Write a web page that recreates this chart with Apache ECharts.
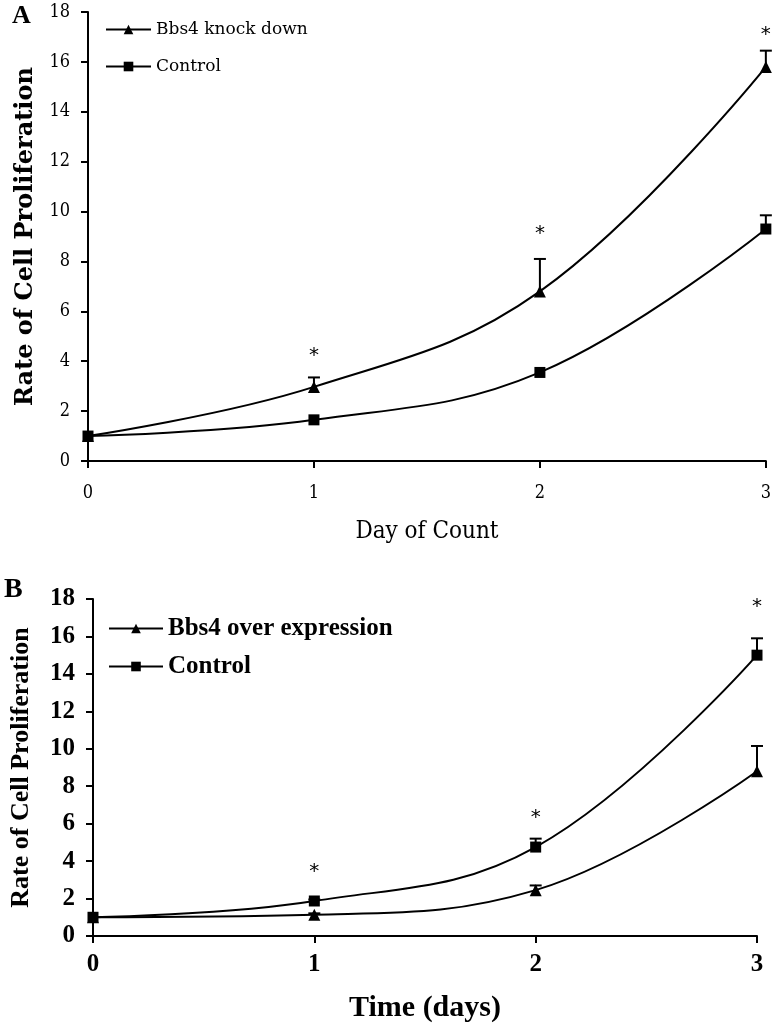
<!DOCTYPE html>
<html>
<head>
<meta charset="utf-8">
<script src="https://cdn.jsdelivr.net/npm/echarts@6/dist/echarts.min.js"></script>
<style>
html,body{margin:0;padding:0;background:#fff;}
#chart{width:774px;height:1024px;}
</style>
</head>
<body>
<div id="chart"></div>
<script>
// ---- data ----
const days = [0, 1, 2, 3];
const starDays = [1, 2, 3];
const yTickInterval = 2;

// Panel A
const aNames = ['Bbs4 knock down', 'Control'];
const aKnockdown = [1, 2.97, 6.8, 15.8];
const aKnockdownErr = [0, 0.38, 1.3, 0.65];
const aControl = [1, 1.65, 3.55, 9.3];
const aControlErr = [0, 0, 0, 0.55];
const aStars = [4.2, 9.1, 17.1];
const aXTitle = 'Day of Count';
const aYTitle = 'Rate of Cell Proliferation';

// Panel B
const bNames = ['Bbs4 over expression', 'Control'];
const bOver = [1, 1.13, 2.45, 8.8];
const bOverErr = [0, 0.08, 0.25, 1.35];
const bControl = [1, 1.87, 4.75, 15.0];
const bControlErr = [0, 0.08, 0.45, 0.9];
const bStars = [3.45, 6.3, 17.6];
const bXTitle = 'Time (days)';
const bYTitle = 'Rate of Cell Proliferation';

// ---- helpers ----
const pts = (vals) => days.map((d, i) => [d, vals[i]]);
const errPts = (vals, errs) => days.map((d, i) => [d, vals[i], errs[i]]).filter(p => p[2] > 0);
const starPts = (vals) => starDays.map((d, i) => [d, vals[i]]);

function errSeries(idx, vals, errs, capW) {
  return {
    type: 'custom', xAxisIndex: idx, yAxisIndex: idx, silent: true, z: 5,
    data: errPts(vals, errs),
    renderItem: function (params, api) {
      const x = api.value(0), y = api.value(1), e = api.value(2);
      const p0 = api.coord([x, y]);
      const p1 = api.coord([x, y + e]);
      const st = { stroke: '#000', lineWidth: 2 };
      return { type: 'group', children: [
        { type: 'line', shape: { x1: p0[0], y1: p0[1], x2: p1[0], y2: p1[1] }, style: st },
        { type: 'line', shape: { x1: p1[0] - capW / 2, y1: p1[1], x2: p1[0] + capW / 2, y2: p1[1] }, style: st }
      ]};
    }
  };
}
function starSeries(idx, vals, font) {
  return {
    type: 'custom', xAxisIndex: idx, yAxisIndex: idx, silent: true, z: 6,
    data: starPts(vals),
    renderItem: function (params, api) {
      const p = api.coord([api.value(0), api.value(1)]);
      return { type: 'text', x: p[0], y: p[1], style: { text: '*', font: font, fill: '#000', align: 'center', verticalAlign: 'middle' } };
    }
  };
}
function lineSeries(idx, name, vals, symbol, size) {
  return {
    type: 'line', name: name, xAxisIndex: idx, yAxisIndex: idx,
    data: pts(vals), smooth: 0.4, symbol: symbol, symbolSize: size, showSymbol: true,
    lineStyle: { color: '#000', width: 2 }, itemStyle: { color: '#000' }, z: 4
  };
}

const fontA = '"DejaVu Serif Condensed", "DejaVu Serif", serif';
const fontB = '"Liberation Serif", "Times New Roman", serif';

function xAxisCfg(idx, name, font, size, weight, nameSize, nameGap, labelMargin) {
  return {
    gridIndex: idx, type: 'value', min: 0, max: 3, interval: 1,
    name: name, nameLocation: 'middle', nameGap: nameGap,
    nameTextStyle: { fontFamily: font, fontSize: nameSize, fontWeight: weight, color: '#000' },
    axisLine: { lineStyle: { color: '#000', width: 2 } },
    axisTick: { show: true, inside: false, length: 7, lineStyle: { color: '#000', width: 2 } },
    axisLabel: { fontFamily: font, fontSize: size, fontWeight: weight, color: '#000', margin: labelMargin },
    splitLine: { show: false }
  };
}
function yAxisCfg(idx, name, font, nameFont, size, weight, nameSize, nameGap, labelMargin) {
  return {
    gridIndex: idx, type: 'value', min: 0, max: 18, interval: yTickInterval,
    name: name, nameLocation: 'middle', nameGap: nameGap,
    nameTextStyle: { fontFamily: nameFont, fontSize: nameSize, fontWeight: 'bold', color: '#000' },
    axisLine: { show: true, lineStyle: { color: '#000', width: 2 } },
    axisTick: { show: true, inside: false, length: 7, lineStyle: { color: '#000', width: 2 } },
    axisLabel: { fontFamily: font, fontSize: size, fontWeight: weight, color: '#000', margin: labelMargin },
    splitLine: { show: false }
  };
}

const chart = echarts.init(document.getElementById('chart'), null, { renderer: 'canvas' });
chart.setOption({
  backgroundColor: '#fff',
  animation: false,
  grid: [
    { left: 88, top: 12, width: 679, height: 449 },
    { left: 88, top: 599, width: 669, height: 339 }
  ],
  xAxis: [
    xAxisCfg(0, aXTitle, fontA, 18, 'normal', 24, 59, 23),
    xAxisCfg(1, bXTitle, fontB, 25, 'bold', 30, 57, 16)
  ],
  yAxis: [
    yAxisCfg(0, aYTitle, fontA, '"DejaVu Serif", serif', 18, 'normal', 24, 50, 18),
    yAxisCfg(1, bYTitle, fontB, fontB, 25, 'bold', 26, 59, 18)
  ],
  legend: [
    { data: aNames, orient: 'vertical', left: 100, top: 16, itemWidth: 45, itemHeight: 12, itemGap: 20,
      selectedMode: false, textStyle: { fontFamily: '"DejaVu Serif", serif', fontSize: 17, color: '#000' } },
    { data: [{ name: bNames[0] }, { name: bNames[1] }], orient: 'vertical', left: 103, top: 611, itemWidth: 54, itemHeight: 12, itemGap: 13,
      selectedMode: false, textStyle: { fontFamily: fontB, fontSize: 25, fontWeight: 'bold', color: '#000' } }
  ],
  graphic: [
    { type: 'text', left: 12, top: 3, style: { text: 'A', font: 'bold 26px "Liberation Serif", serif', fill: '#000' } },
    { type: 'text', left: 4, top: 576, style: { text: 'B', font: 'bold 28px "Liberation Serif", serif', fill: '#000' } }
  ],
  series: [
    lineSeries(0, aNames[0], aKnockdown, 'triangle', 12),
    lineSeries(0, aNames[1], aControl, 'rect', 11),
    errSeries(0, aKnockdown, aKnockdownErr, 12),
    errSeries(0, aControl, aControlErr, 12),
    starSeries(0, aStars, '20px "DejaVu Sans", sans-serif'),
    lineSeries(1, bNames[0], bOver, 'triangle', 12),
    lineSeries(1, bNames[1], bControl, 'rect', 11),
    errSeries(1, bOver, bOverErr, 12),
    errSeries(1, bControl, bControlErr, 12),
    starSeries(1, bStars, '20px "DejaVu Sans", sans-serif')
  ]
});
</script>
</body>
</html>
